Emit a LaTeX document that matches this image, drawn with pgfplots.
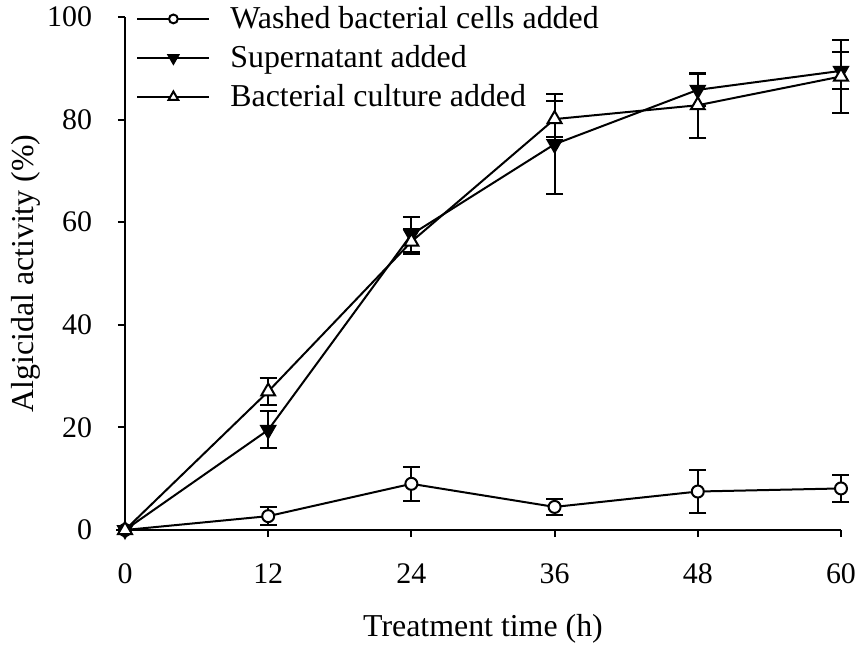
\documentclass[border=0pt]{standalone}
\usepackage{fontspec}
\setmainfont{Liberation Serif}
\usepackage{pgfplots}
\pgfplotsset{compat=1.18}
\begin{document}
\begin{tikzpicture}
\begin{axis}[
  scale only axis, width=358bp, height=256.5bp,
  xmin=0, xmax=60, ymin=0, ymax=100,
  axis x line*=bottom, axis y line*=left,
  axis line style={line width=1bp},
  xtick={0,12,24,36,48,60}, ytick={0,20,40,60,80,100},
  tick align=outside, major tick length=3.5bp,
  tick style={line width=1bp, black},
  clip=false,
  /pgf/number format/assume math mode=true,
  tick label style={font=\fontsize{15}{18}\selectfont},
  xticklabel style={yshift=-10bp},
  yticklabel style={xshift=-9.5bp},
  label style={font=\fontsize{16}{19}\selectfont},
  xlabel={Treatment time (h)}, ylabel={Algicidal activity (\%)},
  xlabel style={at={([yshift=-53bp]rel axis cs:0.5,0)}, anchor=base},
  ylabel style={at={([xshift=-45.5bp]rel axis cs:0,0.5)}, anchor=base},
  legend style={at={([xshift=5.5bp,yshift=7.5bp]rel axis cs:0,1)}, anchor=north west, draw=none, fill=none,
    font=\fontsize{16}{19}\selectfont, inner sep=0pt, row sep=3bp,
    /tikz/every odd column/.append style={column sep=8bp}},
  legend cell align=left,
  legend image code/.code={\draw[mark repeat=2,mark phase=2,#1] plot coordinates {(0bp,0bp)(18bp,0bp)(36bp,0bp)};},
]
\addlegendimage{black, line width=1bp, mark=*, mark options={fill=white}, mark size=2.2bp}
\addlegendentry{Washed bacterial cells added}
\addlegendimage{black, line width=1bp, mark=triangle*, mark options={fill=black, rotate=180}, mark size=2.8bp}
\addlegendentry{Supernatant added}
\addlegendimage{black, line width=1bp, mark=triangle*, mark options={fill=white}, mark size=2.8bp}
\addlegendentry{Bacterial culture added}

\addplot[forget plot, black, line width=1bp, mark=*, mark size=3bp, mark options={fill=white, solid},
  error bars/.cd, y dir=both, y explicit,
  error mark options={rotate=90, mark size=4.25bp, line width=1bp, black},
  error bar style={line width=1bp, black}]
coordinates {
(0,0) +- (0,0)
(12,2.7) +- (0,1.7)
(24,9.0) +- (0,3.3)
(36,4.5) +- (0,1.5)
(48,7.5) +- (0,4.1)
(60,8.1) +- (0,2.7)
};

\addplot[forget plot, black, line width=1bp, mark=triangle*, mark size=4bp, mark options={fill=black, rotate=180, solid},
  error bars/.cd, y dir=both, y explicit,
  error mark options={rotate=90, mark size=4.25bp, line width=1bp, black},
  error bar style={line width=1bp, black}]
coordinates {
(0,0) +- (0,0)
(12,19.5) +- (0,3.6)
(24,57.6) +- (0,3.4)
(36,75.2) +- (0,9.7)
(48,85.8) +- (0,3.1)
(60,89.5) +- (0,3.6)
};

\addplot[forget plot, black, line width=1bp, mark=triangle*, mark size=4bp, mark options={fill=white, solid},
  error bars/.cd, y dir=both, y explicit,
  error mark options={rotate=90, mark size=4.25bp, line width=1bp, black},
  error bar style={line width=1bp, black}]
coordinates {
(0,0) +- (0,0)
(12,27.0) +- (0,2.6)
(24,56.2) +- (0,2.4)
(36,80.1) +- (0,3.5)
(48,82.8) +- (0,6.3)
(60,88.4) +- (0,7.2)
};
\end{axis}
\pgfresetboundingbox
\useasboundingbox (-62.5bp,-59.5bp) rectangle (367.5bp,265bp);
\end{tikzpicture}
\end{document}
